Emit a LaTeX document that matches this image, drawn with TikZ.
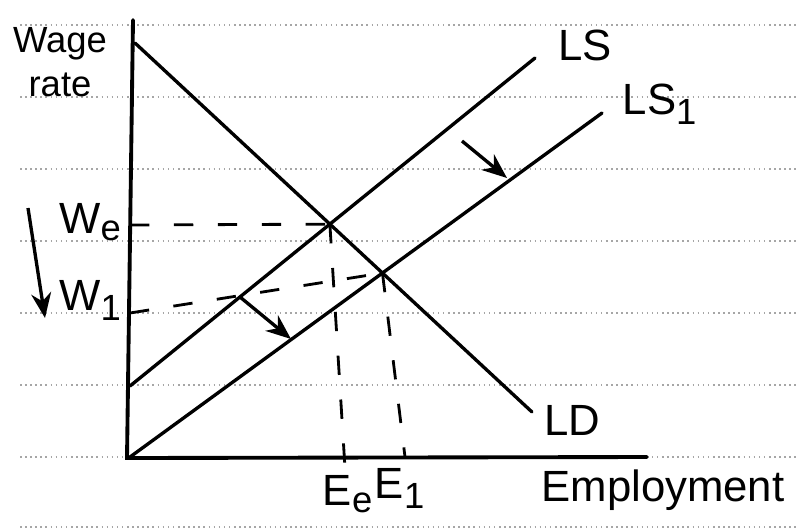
\documentclass[tikz,border=0pt]{standalone}
\usepackage{fontspec}
\setmainfont{Liberation Sans}
\usetikzlibrary{arrows.meta, positioning, intersections}

\begin{document}
\begin{tikzpicture}[
    x=0.02cm, y=-0.02cm,
    rule/.style={gray!70, dotted, line width=0.9pt},
    axis/.style={line width=2.2pt, line cap=round},
    curve/.style={line width=1.9pt, line cap=round},
    guide/.style={line width=1.6pt, dash pattern=on 11pt off 14pt},
    shiftarrow/.style={line width=1.9pt, -{Stealth[length=5mm, width=4mm]}},
    label/.style={font=\Huge, inner sep=1pt}
]
\useasboundingbox (0,0) rectangle (797,528);
% ruled paper
\foreach \y in {25,97,169,241,313,385,457,527}
  \draw[rule] (20,\y) -- (797,\y);

% axes
\coordinate (top) at (133,20);
\coordinate (O) at (127,458);
\coordinate (right) at (647,457);
\draw[axis] (top) -- (O) -- (right);

% demand and supply lines
\draw[curve, name path=ld] (135,43) -- (532,412) coordinate (ldend);
\draw[curve, name path=ls] (130,386) -- (535,58) coordinate (lsend);
\draw[curve, name path=ls1] (130,457) -- (602,113) coordinate (ls1end);
\path[name intersections={of=ls and ld, by=eqA}];
\path[name intersections={of=ls1 and ld, by=eqB}];

% labels
\node[label] (ls) at (585,45) {LS};
\node[label] (ls1) at (660,104) {LS\textsubscript{1}};
\node[label] (ld) at (572,420) {LD};
\node[label, align=center, font=\huge] (wage) at (60,62) {Wage\\rate};
\node[label, anchor=east] (we) at (124,222) {W\textsubscript{e}};
\node[label, anchor=east] (w1) at (124,300) {W\textsubscript{1}};
\node[label] (ee) at (348,494) {E\textsubscript{e}};
\node[label] (e1) at (400,488) {E\textsubscript{1}};
\node[label] (emp) at (663,490) {Employment};

% dashed guides
\coordinate (wetick) at (130,225);
\coordinate (w1tick) at (130,313);
\coordinate (eetick) at (345,468);
\coordinate (e1tick) at (405,457);
\draw[guide] (wetick) -- (eqA);
\draw[guide] (w1tick) -- (eqB);
\draw[guide] (eqA) -- (eetick);
\draw[guide] (eqB) -- (e1tick);

% shifts
\coordinate (s1a) at (240,297);
\coordinate (s1b) at (291,339);
\coordinate (s2a) at (462,141);
\coordinate (s2b) at (507,178);
\draw[shiftarrow] (s1a) -- (s1b);
\draw[shiftarrow] (s2a) -- (s2b);
\coordinate (fa) at (28,208);
\coordinate (fb) at (45,318);
\draw[shiftarrow] (fa) -- (fb);
\end{tikzpicture}
\end{document}
